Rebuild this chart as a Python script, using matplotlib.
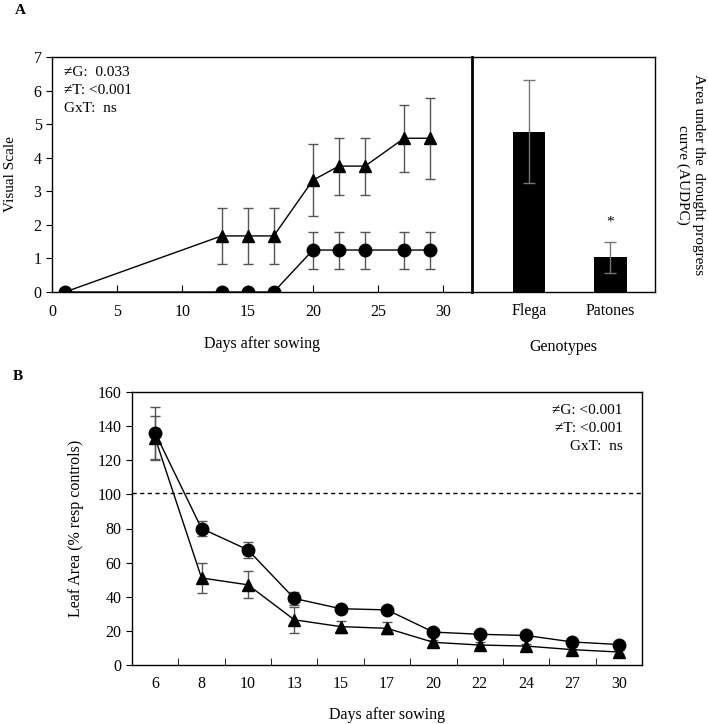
import matplotlib
matplotlib.use("Agg")
import matplotlib.pyplot as plt
import numpy as np

plt.rcParams['font.family'] = ['Liberation Serif', 'DejaVu Serif']
plt.rcParams['font.size'] = 11

# ---- Panel A data ----
days_a = [1, 13, 15, 17, 20, 22, 24, 27, 29]
flega_vs = [0, 1.67, 1.67, 1.67, 3.33, 3.75, 3.75, 4.58, 4.58]
flega_vs_err = [0, 0.83, 0.83, 0.83, 1.07, 0.85, 0.85, 1.0, 1.2]
patones_vs = [0, 0, 0, 0, 1.25, 1.25, 1.25, 1.25, 1.25]
patones_vs_err = [0, 0, 0, 0, 0.55, 0.55, 0.55, 0.55, 0.55]

genotypes = ["Flega", "Patones"]
audpc = [4.78, 1.03]
audpc_err = [1.53, 0.45]

# ---- Panel B data ----
days_b = ["6", "8", "10", "13", "15", "17", "20", "22", "24", "27", "30"]
flega_la = [133, 51, 47, 26.5, 22.5, 21.5, 13.3, 11.7, 11.1, 9.0, 7.6]
flega_la_err = [13, 9, 8, 7.5, 3.5, 3.5, 1.5, 1.5, 1.5, 1.5, 1.2]
patones_la = [136, 80, 67.5, 39, 33, 32.3, 19.3, 18, 17.3, 13.5, 12]
patones_la_err = [15, 4.5, 4.5, 4, 1.5, 1.5, 1.2, 1.2, 1.2, 1.2, 1.2]
control_line = 101

W, H = 708, 724
fig = plt.figure(figsize=(W / 100, H / 100), dpi=100)

def rect(l, r, t, b):
    return [l / W, 1 - b / H, (r - l) / W, (b - t) / H]

err_kw = dict(ecolor='#555555', elinewidth=1.0, capsize=3.5, capthick=1.0)

# ---- Panel A line plot ----
ax1 = fig.add_axes(rect(52, 472, 57, 292))
ax1.errorbar(days_a, flega_vs, yerr=flega_vs_err, color='black', lw=1.0,
             marker='^', ms=9, **err_kw, zorder=3)
ax1.errorbar(days_a, patones_vs, yerr=patones_vs_err, color='black', lw=1.0,
             marker='o', ms=9, **err_kw, zorder=3)
ax1.set_xlim(0, 32.2)
ax1.set_ylim(0, 7)
ax1.set_xticks([0, 5, 10, 15, 20, 25, 30])
ax1.set_yticks(range(0, 8))
ax1.tick_params(axis='x', direction='in', length=5, pad=9, labelsize=11.5)
ax1.tick_params(axis='y', direction='out', length=4, labelsize=11.5)
ax1.spines['right'].set_visible(False)
for s in ax1.spines.values():
    s.set_linewidth(1.0)
ax1.set_ylabel("Visual Scale", fontsize=11, labelpad=12)
ax1.set_xlabel("Days after sowing", fontsize=11.5, labelpad=11)
for i, t in enumerate(["≠G:  0.033", "≠T: <0.001", "GxT:  ns"]):
    ax1.text(0.028, 0.935 - i * 0.077, t, transform=ax1.transAxes, fontsize=11,
             va='center', ha='left')

# ---- Panel A bars ----
ax2 = fig.add_axes(rect(472, 655, 57, 292))
xb = np.arange(len(genotypes))
ax2.bar(xb, audpc, width=0.4, color='black', yerr=audpc_err,
        error_kw=dict(ecolor='#777777', elinewidth=1.0, capsize=4, capthick=1.0))
ax2.set_xlim(-0.7, 1.55)
ax2.set_ylim(0, 7)
ax2.set_yticks([])
ax2.set_xticks(xb)
ax2.set_xticklabels(genotypes, fontsize=11.5)
ax2.tick_params(axis='x', length=0, pad=8)
ax2.spines['left'].set_linewidth(2.0)
for k in ['top', 'right', 'bottom']:
    ax2.spines[k].set_linewidth(1.0)
ax2.text(1, 2.07, "*", ha='center', va='center', fontsize=11)
ax2.set_xlabel("Genotypes", fontsize=11.5, labelpad=14)
ax2.yaxis.set_label_position('right')
ax2.set_ylabel("Area under the  drought progress\ncurve (AUDPC)", rotation=270,
               fontsize=11, labelpad=36, linespacing=1.25)

# ---- Panel B ----
ax3 = fig.add_axes(rect(132, 642, 392, 665))
xc = np.arange(len(days_b))
ax3.errorbar(xc, flega_la, yerr=flega_la_err, color='black', lw=1.0,
             marker='^', ms=9, **err_kw, zorder=3)
ax3.errorbar(xc, patones_la, yerr=patones_la_err, color='black', lw=1.0,
             marker='o', ms=9, **err_kw, zorder=3)
ax3.axhline(control_line, color='black', lw=1.0, ls=(0, (3, 2.5)))
ax3.set_xlim(-0.5, len(days_b) - 0.5)
ax3.set_ylim(0, 160)
ax3.set_yticks(range(0, 161, 20))
ax3.set_xticks(xc)
ax3.set_xticklabels(days_b, fontsize=11.5)
ax3.set_xticks(np.arange(0.5, len(days_b) - 1, 1), minor=True)
ax3.tick_params(axis='x', which='major', length=0, pad=8)
ax3.tick_params(axis='x', which='minor', direction='in', length=5)
ax3.tick_params(axis='y', direction='out', length=4, labelsize=11.5)
for s in ax3.spines.values():
    s.set_linewidth(1.0)
ax3.set_ylabel("Leaf Area (% resp controls)", fontsize=11.5, labelpad=10)
ax3.set_xlabel("Days after sowing", fontsize=11.5, labelpad=11)
for i, t in enumerate(["≠G: <0.001", "≠T: <0.001", "GxT:  ns"]):
    ax3.text(0.962, 0.932 - i * 0.066, t, transform=ax3.transAxes, fontsize=11,
             va='center', ha='right')

fig.text(20 / W, 1 - 10 / H, "A", fontsize=11, fontweight='bold', ha='center', va='center')
fig.text(18 / W, 1 - 377 / H, "B", fontsize=11, fontweight='bold', ha='center', va='center')

fig.savefig("out.png", dpi=100)
